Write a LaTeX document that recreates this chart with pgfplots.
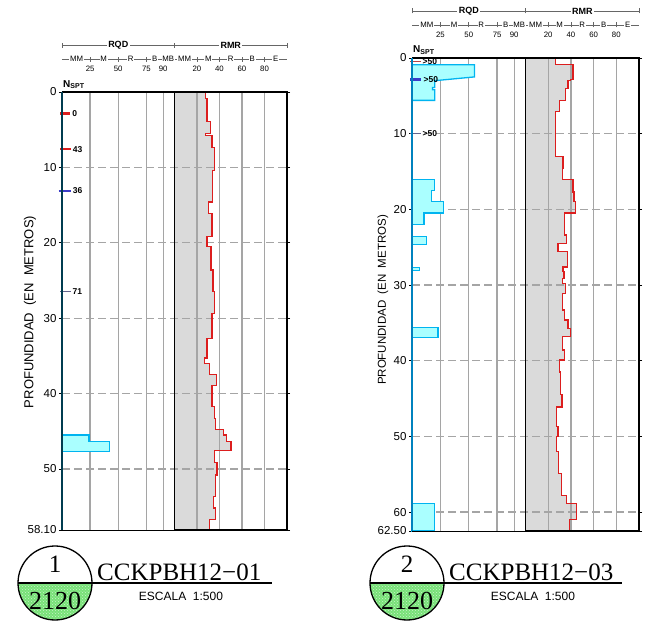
\documentclass[border=0pt]{standalone}
\usepackage{pgfplots}
\pgfplotsset{compat=1.18}
\usepackage{pgfplotstable}
\usepackage{fontspec}
\setmainfont{Liberation Sans}
\newfontfamily\serifcad{Liberation Serif}
\usetikzlibrary{patterns}

\definecolor{rmrfill}{RGB}{218,218,218}
\definecolor{gridg}{RGB}{165,165,165}
\definecolor{cyfill}{RGB}{170,255,255}
\definecolor{cyedge}{RGB}{0,180,240}
\definecolor{sptred}{RGB}{220,30,30}
\definecolor{sptblue}{RGB}{60,60,200}
\definecolor{sptgray}{RGB}{100,100,140}
\definecolor{greenfill}{RGB}{120,225,120}
\definecolor{edgeA}{RGB}{0,60,80}
\definecolor{edgeB}{RGB}{0,130,190}

% RMR step profiles (d = depth in m, v = RMR)
\pgfplotstableread{
d v
0 27.4
0.85 27.4
0.85 28.9
3.9 28.9
3.9 31.9
5.5 31.9
5.5 27.4
5.8 27.4
5.8 33.3
7.4 33.3
7.4 35.4
10.4 35.4
10.4 33.9
14.6 33.9
14.6 30.4
16.1 30.4
16.1 33.3
19.2 33.3
19.2 28.9
20.5 28.9
20.5 32.4
23.6 32.4
23.6 34.2
26.5 34.2
26.5 35.4
29.4 35.4
29.4 33.3
32.7 33.3
32.7 28.9
35.3 28.9
35.3 26.8
36.0 26.8
36.0 31.3
37.5 31.3
37.5 37.2
38.9 37.2
38.9 33.3
41.7 33.3
41.7 35.4
43.3 35.4
43.3 36.6
44.8 36.6
44.8 43.7
45.5 43.7
45.5 46.0
46.4 46.0
46.4 50.1
47.6 50.1
47.6 35.4
49.1 35.4
49.1 37.8
50.8 37.8
50.8 36.3
53.7 36.3
53.7 34.8
55.2 34.8
55.2 36.3
56.7 36.3
56.7 31.3
58.1 31.3
}\rmrA

\pgfplotstableread{
d v
0 26.5
0.9 26.5
0.9 41.9
2.8 41.9
2.8 39.5
3.0 39.5
3.0 37.5
4.0 37.5
4.0 35.1
5.6 35.1
5.6 30.1
7.1 30.1
7.1 26.3
13.0 26.3
13.0 33.0
14.6 33.0
14.6 32.4
16.1 32.4
16.1 41.9
17.7 41.9
17.7 42.8
19.0 42.8
19.0 44.0
20.5 44.0
20.5 34.5
23.4 34.5
23.4 36.0
24.5 36.0
24.5 28.6
25.6 28.6
25.6 36.9
27.6 36.9
27.6 33.0
28.2 33.0
28.2 34.0
29.1 34.0
29.1 32.4
29.8 32.4
29.8 35.1
31.1 35.1
31.1 32.4
33.3 32.4
33.3 34.5
34.6 34.5
34.6 37.5
35.7 37.5
35.7 39.5
36.8 39.5
36.8 32.4
38.6 32.4
38.6 34.5
39.9 34.5
39.9 30.1
41.5 30.1
41.5 31.0
44.5 31.0
44.5 32.2
46.1 32.2
46.1 27.1
48.7 27.1
48.7 28.6
50.0 28.6
50.0 27.1
52.0 27.1
52.0 29.2
54.9 29.2
54.9 31.6
57.8 31.6
57.8 36.0
58.9 36.0
58.9 44.8
61.0 44.8
61.0 38.9
62.5 38.9
}\rmrB

\def\hf{\fontsize{7.8}{8.5}\selectfont}
\def\sptf{\fontsize{8.5}{9}\selectfont\bfseries}
\newcommand\hl[2]{\node[fill=white, inner sep=0.8pt, font=\hf] at ([yshift=33pt]axis cs:#1,0) {#2};}
\newcommand\hn[2]{\node[inner sep=0pt, font=\hf] at ([yshift=23pt]axis cs:#1,0) {#2};}
\newcommand\hdr{%
  \draw[black!60, line width=0.7pt] ([yshift=47pt]axis cs:0,0) -- ([yshift=47pt]axis cs:200,0);
  \pgfplotsinvokeforeach{0,100,200}{\draw[black!60, line width=0.7pt] ([yshift=44.5pt]axis cs:##1,0) -- ([yshift=49.5pt]axis cs:##1,0);}
  \node[fill=white, inner sep=1.5pt, font=\fontsize{9}{10}\selectfont\bfseries] at ([yshift=47pt]axis cs:50,0) {RQD};
  \node[fill=white, inner sep=1.5pt, font=\fontsize{9}{10}\selectfont\bfseries] at ([yshift=47pt]axis cs:150,0) {RMR};
  \draw[black!60, line width=0.7pt] ([yshift=33pt]axis cs:0,0) -- ([yshift=33pt]axis cs:200,0);
  \pgfplotsinvokeforeach{25,50,75,90,120,140,160,180}{\draw[black!60, line width=0.7pt] ([yshift=30.5pt]axis cs:##1,0) -- ([yshift=35.5pt]axis cs:##1,0);}
  \hl{13}{MM}\hl{37}{M}\hl{61}{R}\hl{82.5}{B}\hl{94.5}{MB}%
  \hl{109}{MM}\hl{130}{M}\hl{150}{R}\hl{169}{B}\hl{190}{E}%
  \hn{25}{25}\hn{50}{50}\hn{75}{75}\hn{90}{90}%
  \hn{120}{20}\hn{140}{40}\hn{160}{60}\hn{180}{80}%
  \node[anchor=base west, inner sep=0pt, font=\fontsize{10}{11}\selectfont\bfseries] at ([xshift=1pt,yshift=5pt]axis cs:0,0) {N\textsubscript{SPT}};
}

\pgfplotsset{boreaxis/.style={
  scale only axis, anchor=south west,
  xmin=0, xmax=200, y dir=reverse,
  axis line style={draw=none},
  xtick=\empty,
  major tick length=3pt, tick align=outside,
  tick style={black, line width=0.8pt},
  yticklabel style={font=\fontsize{11.5}{13}\selectfont, xshift=1pt},
  /pgf/number format/assume math mode=true,
  clip=false}}

\begin{document}
\begin{tikzpicture}
\useasboundingbox (0,0) rectangle (651pt,630pt);

% ---------------- Borehole 1 ----------------
\begin{axis}[boreaxis,
  at={(62pt,100pt)}, width=225pt, height=438pt,
  ymin=0, ymax=58.1,
  ytick={0,10,20,30,40,50},
  extra y ticks={58.1}, extra y tick labels={58.10},
]
\addplot[fill=rmrfill, draw=none] table[x expr=\thisrow{v}+100, y=d] {\rmrA} -- (axis cs:100,58.1) -- (axis cs:100,0) -- cycle;
\pgfplotsinvokeforeach{25,50,75,90,120,140,160,180}{\draw[gridg, line width=1.3pt] (axis cs:#1,0) -- (axis cs:#1,58.1);}
\pgfplotsinvokeforeach{10,20,30,40,50}{\draw[gridg, line width=1.2pt, dash pattern=on 8pt off 4pt] (axis cs:0,#1) -- (axis cs:200,#1);}
\addplot[sptred, line width=1.3pt] table[x expr=\thisrow{v}+100, y=d] {\rmrA} -- (axis cs:100,58.1);
\addplot[fill=cyfill, draw=cyedge, line width=1.3pt] coordinates {(0,45.5) (24,45.5) (24,46.4) (42,46.4) (42,47.7) (0,47.7)} -- cycle;
\addplot[sptred, line width=3pt] coordinates {(-1.5,2.8) (7,2.8)} node[pos=1, right, black, inner sep=1pt, font=\sptf] {0};
\addplot[sptred, line width=1.6pt] coordinates {(-1.5,7.6) (8,7.6)} node[pos=1, right, black, inner sep=1pt, font=\sptf] {43};
\addplot[sptblue, line width=2pt] coordinates {(-3,13.1) (8,13.1)} node[pos=1, right, black, inner sep=1pt, font=\sptf] {36};
\addplot[sptgray, line width=1.3pt] coordinates {(-1.5,26.5) (8,26.5)} node[pos=1, right, black, inner sep=1pt, font=\sptf] {71};
\draw[black, line width=1.3pt] (axis cs:0,0) -- (axis cs:200,0) -- (axis cs:200,58.1) -- (axis cs:100,58.1);
\draw[black, line width=0.8pt] (axis cs:0,58.1) -- (axis cs:100,58.1);
\draw[black, line width=1.8pt] (axis cs:100,0) -- (axis cs:100,58.1);
\draw[edgeA, line width=1.8pt] (axis cs:0,0) -- (axis cs:0,58.1);
\hdr
\end{axis}

% ---------------- Borehole 2 ----------------
\begin{axis}[boreaxis,
  at={(412pt,99pt)}, width=227pt, height=473pt,
  ymin=0, ymax=62.5,
  ytick={0,10,20,30,40,50,60},
  extra y ticks={62.5}, extra y tick labels={62.50},
]
\addplot[fill=rmrfill, draw=none] table[x expr=\thisrow{v}+100, y=d] {\rmrB} -- (axis cs:100,62.5) -- (axis cs:100,0) -- cycle;
\pgfplotsinvokeforeach{25,50,75,90,120,140,160,180}{\draw[gridg, line width=1.3pt] (axis cs:#1,0) -- (axis cs:#1,62.5);}
\pgfplotsinvokeforeach{10,20,30,40,50,60}{\draw[gridg, line width=1.2pt, dash pattern=on 8pt off 4pt] (axis cs:0,#1) -- (axis cs:200,#1);}
\addplot[sptred, line width=1.3pt] table[x expr=\thisrow{v}+100, y=d] {\rmrB} -- (axis cs:100,62.5);
\addplot[fill=cyfill, draw=cyedge, line width=1.3pt] coordinates {(0,0.9) (55,0.9) (55,2.5) (20,3.0) (20,3.9) (18,3.9) (18,4.2) (20,4.2) (20,5.6) (0,5.6)} -- cycle;
\addplot[fill=cyfill, draw=cyedge, line width=1.3pt] coordinates {(0,16.1) (20,16.1) (20,17.5) (17,17.5) (17,19.0) (27.5,19.0) (27.5,20.5) (10.5,20.5) (10.5,22.0) (0,22.0)} -- cycle;
\addplot[fill=cyfill, draw=cyedge, line width=1.3pt] coordinates {(0,23.6) (13,23.6) (13,24.6) (0,24.6)} -- cycle;
\addplot[fill=cyfill, draw=cyedge, line width=1.3pt] coordinates {(0,27.7) (6.4,27.7) (6.4,28.1) (0,28.1)} -- cycle;
\addplot[fill=cyfill, draw=cyedge, line width=1.3pt] coordinates {(0,35.6) (23,35.6) (23,36.9) (0,36.9)} -- cycle;
\addplot[fill=cyfill, draw=cyedge, line width=1.3pt] coordinates {(0,58.9) (20,58.9) (20,62.5) (0,62.5)} -- cycle;
\addplot[sptred!60!gray, line width=1.2pt] coordinates {(-1.5,0.5) (8,0.5)} node[pos=1, right, black, inner sep=1pt, font=\sptf] {>50};
\addplot[sptblue, line width=3pt] coordinates {(-1.5,2.8) (8,2.8)} node[pos=1, right, black, inner sep=1pt, font=\sptf] {>50};
\addplot[sptgray, line width=1.3pt] coordinates {(-1.5,10) (8,10)} node[pos=1, right, black, inner sep=1pt, font=\sptf] {>50};
\draw[black, line width=1.3pt] (axis cs:0,0) -- (axis cs:200,0) -- (axis cs:200,62.5) -- (axis cs:100,62.5);
\draw[black, line width=0.8pt] (axis cs:0,62.5) -- (axis cs:100,62.5);
\draw[black, line width=1.8pt] (axis cs:100,0) -- (axis cs:100,62.5);
\draw[edgeB, line width=1.8pt] (axis cs:0,0) -- (axis cs:0,62.5);
\hdr
\end{axis}

% axis titles
\node[rotate=90, font=\fontsize{13}{14}\selectfont] at (30pt,318pt) {PROFUNDIDAD\ \ (EN\ \ METROS)};
\node[rotate=90, font=\fontsize{11.5}{13}\selectfont] at (383pt,330pt) {PROFUNDIDAD\ \ (EN\ \ METROS)};

% title blocks
\foreach \cx/\ex/\num/\name/\sx in {55/272/1/CCKPBH12−01/181, 407/622/2/CCKPBH12−03/533}{
  \fill[greenfill] (\cx pt-37pt,47pt) arc (180:360:37pt) -- cycle;
  \fill[pattern=crosshatch dots, pattern color=white!60!greenfill] (\cx pt-37pt,47pt) arc (180:360:37pt) -- cycle;
  \draw[black, line width=1.3pt] (\cx pt,47pt) circle (37pt);
  \draw[black, line width=1.3pt] (\cx pt-37pt,47pt) -- (\ex pt,47pt);
  \node[font=\serifcad\fontsize{25}{25}\selectfont] at (\cx pt,66pt) {\num};
  \node[font=\serifcad\fontsize{26}{26}\selectfont] at (\cx pt,29pt) {2120};
  \node[anchor=base west, inner sep=0pt, font=\serifcad\fontsize{25}{25}\selectfont] at (\cx pt+42pt,50pt) {\name};
  \node[font=\fontsize{12}{13}\selectfont] at (\sx pt,34pt) {ESCALA\ \ 1:500};
}
\end{tikzpicture}
\end{document}
